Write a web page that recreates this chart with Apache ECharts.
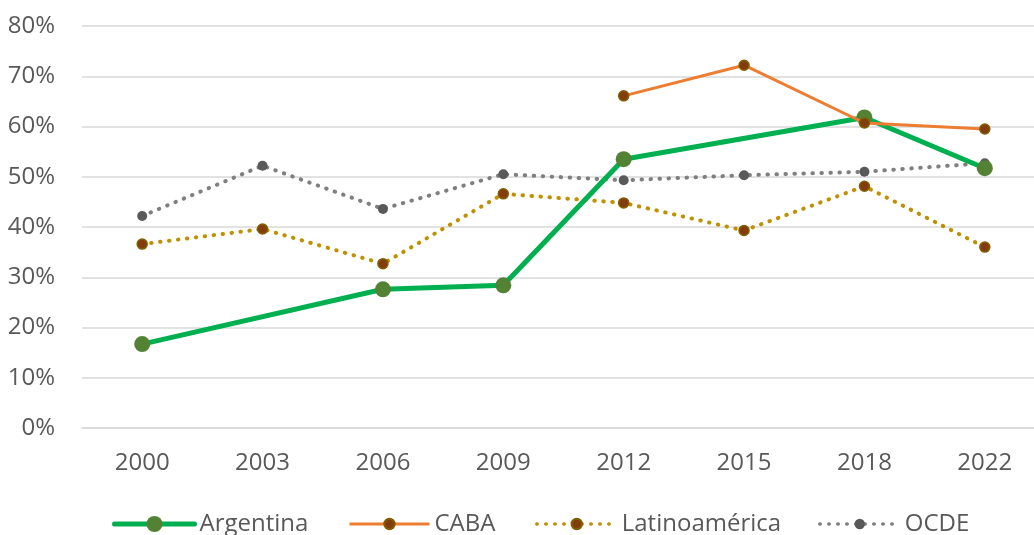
<!DOCTYPE html>
<html>
<head>
<meta charset="utf-8">
<script src="https://cdn.jsdelivr.net/npm/echarts@6/dist/echarts.min.js"></script>
<style>
  html, body { margin: 0; padding: 0; background: #ffffff; overflow: hidden; }
  /* the plot runs a little past the right edge of the page */
  #chart { width: 1045px; height: 535px; }
</style>
</head>
<body>
<div id="chart"></div>
<script>
// Survey years on the horizontal axis
const years = ['2000', '2003', '2006', '2009', '2012', '2015', '2018', '2022'];

// Shares in percent per year (null where there is no measurement)
const argentina = [16.7, null, 27.6, 28.4, 53.5, null, 61.8, 51.7];
const caba = [null, null, null, null, 66.1, 72.2, 60.7, 59.5];
const latinoamerica = [36.6, 39.6, 32.7, 46.6, 44.8, 39.3, 48.1, 36.0];
const ocde = [42.2, 52.2, 43.6, 50.5, 49.3, 50.3, 51.0, 52.7];

// Vertical axis range in percent
const yMin = 0;
const yMax = 80;
const yStep = 10;

const FONT = '"Open Sans", "Liberation Sans", sans-serif';
const TEXT = '#595959';
const GRID = '#D9D9D9';

const chart = echarts.init(document.getElementById('chart'), null, { renderer: 'canvas' });

function legendFor(name, left, itemHeight, lineStyle) {
  return {
    data: [name],
    left: left,
    top: 512,
    itemWidth: 80,
    itemHeight: itemHeight,
    padding: 0,
    selectedMode: false,
    lineStyle: lineStyle,
    textStyle: { fontFamily: FONT, fontSize: 24, color: TEXT }
  };
}

const dots = [0.5, 8.5];

const option = {
  animation: false,
  backgroundColor: '#ffffff',
  grid: { left: 82, right: 0, top: 26, bottom: 107, containLabel: false },
  legend: [
    legendFor('Argentina', 112, 20, { width: 5 }),
    legendFor('CABA', 348, 13, { width: 3 }),
    legendFor('Latinoamérica', 535, 13, { width: 3.5, type: dots, cap: 'round' }),
    legendFor('OCDE', 818, 13, { width: 3.5, type: dots, cap: 'round' })
  ],
  xAxis: {
    type: 'category',
    data: years,
    boundaryGap: true,
    axisLine: { show: true, lineStyle: { color: GRID, width: 1.5 } },
    axisTick: { show: false },
    axisLabel: { color: TEXT, fontFamily: FONT, fontSize: 24, margin: 23 },
    splitLine: { show: false }
  },
  yAxis: {
    type: 'value',
    min: yMin,
    max: yMax,
    interval: yStep,
    axisLine: { show: false },
    axisTick: { show: false },
    axisLabel: { color: TEXT, fontFamily: FONT, fontSize: 24, margin: 27, formatter: '{value}%' },
    splitLine: { show: true, lineStyle: { color: GRID, width: 1.5 } }
  },
  series: [
    {
      name: 'Argentina',
      type: 'line',
      data: argentina,
      connectNulls: true,
      symbol: 'circle',
      symbolSize: 16,
      z: 3,
      lineStyle: { color: '#00B050', width: 5, cap: 'round', join: 'round' },
      itemStyle: { color: '#548235' },
      emphasis: { disabled: true }
    },
    {
      name: 'CABA',
      type: 'line',
      data: caba,
      symbol: 'circle',
      symbolSize: 10,
      z: 4,
      lineStyle: { color: '#ED7D31', width: 3 },
      itemStyle: { color: '#843C0C', borderColor: '#7F6000', borderWidth: 1.5 },
      emphasis: { disabled: true }
    },
    {
      name: 'Latinoamérica',
      type: 'line',
      data: latinoamerica,
      symbol: 'circle',
      symbolSize: 10,
      z: 2,
      lineStyle: { color: '#BF9000', width: 4, type: dots, cap: 'round' },
      itemStyle: { color: '#843C0C', borderColor: '#7F6000', borderWidth: 1.5 },
      emphasis: { disabled: true }
    },
    {
      name: 'OCDE',
      type: 'line',
      data: ocde,
      symbol: 'circle',
      symbolSize: 10,
      z: 2,
      lineStyle: { color: '#7F7F7F', width: 4, type: dots, cap: 'round' },
      itemStyle: { color: '#595959' },
      emphasis: { disabled: true }
    }
  ]
};

chart.setOption(option);
</script>
</body>
</html>
